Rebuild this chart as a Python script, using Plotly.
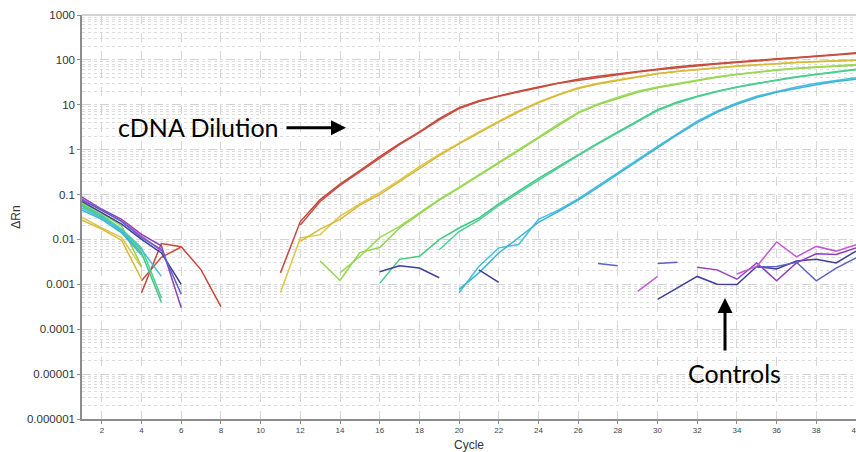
import plotly.graph_objects as go

N = None
cycles = list(range(1, 41))

# ---- cDNA dilution series (duplicates), dRn per cycle; None = not shown on log scale
red_a = [N, N, N, 6.5e-4, 8.1e-3, 6.9e-3, 2.1e-3, 3.2e-4, N, N,
         1.8e-3, 0.025, 0.077, 0.17, 0.34, 0.70, 1.36, 2.5, 4.9, 8.6,
         12.3, 16, 20, 25, 31, 37, 43, 49, 56, 63,
         70, 77, 84, 91, 98, 106, 113, 120, 132, 145]
red_b = [N, N, N, 1.2e-3, 4.0e-3, 6.8e-3, N, N, N, N,
         N, 0.021, 0.07, 0.16, 0.32, 0.66, 1.3, 2.4, 4.6, 8.2,
         11.8, 15.4, 19.5, 24, 30, 35, 41, 47, 54, 60,
         67, 74, 81, 88, 95, 102, 109, 116, 126, 138]
yellow_a = [0.031, 0.018, 0.011, 2.4e-3, N, N, N, N, N, N,
            6.5e-4, 0.0108, 0.0128, 0.033, 0.062, 0.11, 0.21, 0.42, 0.78, 1.42,
            2.5, 4.3, 7.3, 11.5, 17, 24, 30, 36, 43, 50,
            56, 62, 67, 73, 78, 84, 88, 92, 96, 100]
yellow_b = [0.027, 0.017, 0.0095, 1.3e-3, N, N, N, N, N, N,
            N, 0.0091, 0.017, 0.028, 0.058, 0.10, 0.197, 0.39, 0.74, 1.35,
            2.4, 4.1, 7.0, 11, 16.5, 23, 29, 35, 42, 49,
            55, 61, 66, 72, 77, 83, 87, 91, 95, 98]
lime_a = [0.065, 0.038, 0.02, 2.5e-3, N, N, N, N, N, N,
          N, N, 3.3e-3, 1.22e-3, 5.1e-3, 6.6e-3, 0.018, 0.036, 0.075, 0.14,
          0.27, 0.5, 0.95, 1.8, 3.5, 6.5, 10, 14, 19, 24,
          29, 35, 41, 47, 53, 59, 64, 68, 72, 76]
lime_b = [0.058, 0.033, 0.016, 5.5e-3, N, N, N, N, N, N,
          N, N, N, 1.8e-3, 4.2e-3, 0.011, 0.0195, 0.039, 0.078, 0.145,
          0.28, 0.52, 1.0, 1.9, 3.7, 6.8, 10.5, 14.8, 20, 25,
          30, 36, 42, 48, 54, 60, 65, 70, 74, 79]
green_a = [0.055, 0.032, 0.015, 5.0e-3, 4.0e-4, N, N, N, N, N,
           N, N, N, N, N, 1.05e-3, 3.6e-3, 4.2e-3, 9.9e-3, 0.018,
           0.03, 0.062, 0.12, 0.23, 0.42, 0.78, 1.4, 2.5, 4.5, 7.8,
           11.5, 15.5, 20, 25, 30, 36, 42, 48, 55, 62]
green_b = [0.06, 0.035, 0.017, 6.5e-3, 5.0e-4, N, N, N, N, N,
           N, N, N, N, N, N, N, N, 5.9e-3, 0.015,
           0.027, 0.057, 0.11, 0.21, 0.40, 0.74, 1.35, 2.4, 4.3, 7.4,
           11, 15, 19.5, 24.5, 29.5, 35, 41, 47, 53, 60]
cyan_a = [0.05, 0.03, 0.016, 6.0e-3, 1.5e-3, N, N, N, N, N,
          N, N, N, N, N, N, N, N, N, 6.5e-4,
          2.5e-3, 6.5e-3, 7.7e-3, 0.028, 0.045, 0.08, 0.155, 0.3, 0.6, 1.18,
          2.3, 4.3, 7.2, 11, 15.5, 20, 25, 30, 35, 40]
cyan_b = [0.045, 0.028, 0.014, 4.5e-3, N, N, N, N, N, N,
          N, N, N, N, N, N, N, N, N, 7.7e-4,
          1.8e-3, 5.0e-3, 0.011, 0.024, 0.042, 0.075, 0.145, 0.28, 0.56, 1.1,
          2.15, 4.0, 6.8, 10.3, 14.5, 19, 23.5, 28, 33, 37]

# ---- controls
navy = [0.07, 0.04, 0.022, 0.01, 5.0e-3, 1.0e-3, N, N, N, N,
        N, N, N, N, N, 1.9e-3, 2.6e-3, 2.3e-3, 1.4e-3, N,
        2.1e-3, 1.1e-3, N, N, N, N, N, N, N, 4.6e-4,
        8.3e-4, 1.5e-3, 1.01e-3, 9.9e-4, 2.5e-3, 2.2e-3, 3.3e-3, 3.6e-3, 3.0e-3, 5.5e-3]
purple = [0.088, 0.047, 0.028, 0.013, 7.2e-3, 3.0e-4, N, N, N, N,
          N, N, N, N, N, N, N, N, N, N,
          N, N, N, N, N, N, N, N, N, N,
          N, 2.4e-3, 2.1e-3, 1.3e-3, 3.0e-3, 1.2e-3, 3.0e-3, 4.8e-3, 4.6e-3, 6.5e-3]
magenta = [0.08, 0.044, 0.026, 0.012, 5.5e-3, N, N, N, N, N,
           N, N, N, N, N, N, N, N, N, N,
           N, N, N, N, N, N, N, N, 7.0e-4, 1.5e-3,
           N, N, N, 1.7e-3, 2.5e-3, 8.8e-3, 4.1e-3, 7.0e-3, 5.5e-3, 7.6e-3]
slate = [0.075, 0.045, 0.025, 0.011, 6.0e-3, 6.0e-4, N, N, N, N,
         N, N, N, N, N, N, N, N, N, N,
         N, N, N, N, N, N, 2.9e-3, 2.6e-3, N, 2.9e-3,
         3.1e-3, N, N, N, 2.4e-3, 2.5e-3, 3.1e-3, 1.2e-3, 2.3e-3, 3.9e-3]

series = [
    (red_a, "#c9463a"), (red_b, "#c65040"),
    (yellow_a, "#dcc842"), (yellow_b, "#d8b83a"),
    (lime_a, "#8fd44a"), (lime_b, "#9cd956"),
    (green_a, "#3fc884"), (green_b, "#4ccf92"),
    (cyan_a, "#45bedd"), (cyan_b, "#3db3d6"),
    (navy, "#3d3f9a"), (purple, "#9040b8"),
    (magenta, "#c25ad2"), (slate, "#5a62c8"),
]

ytick_vals = [1e-6, 1e-5, 1e-4, 1e-3, 1e-2, 1e-1, 1, 10, 100, 1000]
ytick_text = ["0.000001", "0.00001", "0.0001", "0.001", "0.01", "0.1", "1", "10", "100", "1000"]

fig = go.Figure()
for vals, col in series:
    fig.add_trace(go.Scatter(x=cycles, y=vals, mode="lines",
                             line=dict(color=col, width=1.5),
                             connectgaps=False, showlegend=False,
                             hoverinfo="skip"))

fig.update_layout(
    width=856, height=452, template="none",
    margin=dict(l=82, r=0, t=15, b=33),
    paper_bgcolor="white", plot_bgcolor="white",
    showlegend=False,
    font=dict(family="Liberation Sans, Arial, sans-serif", color="#333333"),
)
fig.update_xaxes(
    range=[1, 40], tick0=0, dtick=2, automargin=False,
    ticklabeloverflow="allow",
    showline=True, linecolor="#8c8c8c", linewidth=1.5,
    ticks="outside", ticklen=3, tickcolor="#8c8c8c",
    tickfont=dict(size=8, color="#444444"),
    showgrid=True, gridcolor="#d6d6d6", griddash="dash", gridwidth=1,
    zeroline=False,
    title=dict(text="Cycle", font=dict(size=12, color="#333333"), standoff=7),
)
fig.update_yaxes(
    type="log", range=[-6, 3], automargin=False,
    tickmode="array", tickvals=ytick_vals, ticktext=ytick_text,
    showline=True, linecolor="#8c8c8c", linewidth=1.5,
    ticks="outside", ticklen=3, tickcolor="#8c8c8c",
    tickfont=dict(size=11.5, color="#333333"),
    showgrid=True, gridcolor="#d2d2d2", griddash="dash", gridwidth=1,
    minor=dict(dtick="D1", showgrid=True, gridcolor="#dcdcdc", griddash="dot", gridwidth=1),
    zeroline=False,
    title=dict(text="ΔRn", font=dict(size=12, color="#333333"), standoff=4),
)
fig.add_shape(type="line", xref="paper", yref="paper", x0=0, x1=1, y0=1, y1=1,
              line=dict(color="#c4c4c4", width=1.5))

ann_font = dict(family="Lato, Open Sans, sans-serif", size=25, color="black")
fig.add_annotation(text="cDNA Dilution", xref="paper", yref="paper",
                   x=(198.5 - 82) / 774, y=(419 - 127) / 404, showarrow=False,
                   font=ann_font, xanchor="center", yanchor="middle")
fig.add_annotation(text="Controls", xref="paper", yref="paper",
                   x=(734 - 82) / 774, y=(419 - 373) / 404, showarrow=False,
                   font=ann_font, xanchor="center", yanchor="middle")
fig.add_annotation(text="", xref="paper", yref="paper",
                   x=(346 - 82) / 774, y=(419 - 127.7) / 404, ax=-61, ay=0,
                   showarrow=True, arrowhead=2, arrowwidth=3, arrowsize=1,
                   arrowcolor="black", standoff=0)
fig.add_annotation(text="", xref="paper", yref="paper",
                   x=(725 - 82) / 774, y=(419 - 298) / 404, ax=0, ay=54,
                   showarrow=True, arrowhead=2, arrowwidth=3, arrowsize=1,
                   arrowcolor="black", standoff=0)

fig.write_html("out.html")
